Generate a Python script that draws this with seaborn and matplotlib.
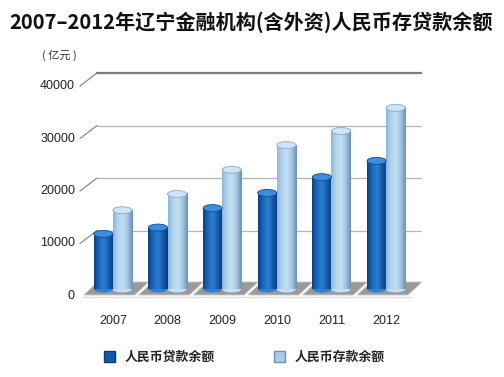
import numpy as np
import pandas as pd
import matplotlib
matplotlib.use("Agg")
import matplotlib.pyplot as plt
import seaborn as sns
from matplotlib.patches import Ellipse, Polygon, Patch
from matplotlib.colors import LinearSegmentedColormap
import matplotlib.transforms as mtransforms

# ---- data ----
years = ["2007", "2008", "2009", "2010", "2011", "2012"]
loans = [10500, 11700, 15400, 18300, 21300, 24400]
deposits = [15000, 18100, 22700, 27400, 30100, 34500]
series_names = ["人民币贷款余额", "人民币存款余额"]
y_ticks = [0, 10000, 20000, 30000, 40000]
title = "2007–2012年辽宁金融机构(含外资)人民币存贷款余额"
unit_label = "( 亿元 )"

df = pd.DataFrame({
    "year": years * 2,
    "value": loans + deposits,
    "series": [series_names[0]] * len(years) + [series_names[1]] * len(years),
})

sns.set_theme(style="white")
plt.rcParams["font.family"] = ["Liberation Sans", "Noto Sans CJK SC", "DejaVu Sans"]

W, H = 504, 377
fig = plt.figure(figsize=(W / 100, H / 100), dpi=100)
fig.patch.set_facecolor("white")
ax = fig.add_axes([85 / W, (H - 289) / H, (420 - 85) / W, 210 / H])
ax.set_facecolor("none")

base_cols = ["#1a62b4", "#a9cdea"]
sns.barplot(data=df, x="year", y="value", hue="series", palette=base_cols,
            width=0.7, saturation=1, ax=ax, legend=False, zorder=3)

XL = (-0.51, 5.62)
YL = (0, 40000)
ax.set_xlim(*XL)
ax.set_ylim(*YL)
for s in ax.spines.values():
    s.set_visible(False)

px_y = (YL[1] - YL[0]) / 210.0   # data units per pixel (y)
px_x = (XL[1] - XL[0]) / 335.0   # data units per pixel (x)

# ---- floor tiles (shadow) ----
for i in range(len(years)):
    fx0, fx1 = i - 0.53, i + 0.40
    sk = 14 * px_x
    yf, yb = -6 * px_y, 7 * px_y
    poly = Polygon([[fx0, yf], [fx1, yf], [fx1 + sk, yb], [fx0 + sk, yb]],
                   closed=True, facecolor="#9a9a9a", edgecolor="#c8c8c8",
                   lw=0.6, zorder=1, clip_on=False)
    ax.add_patch(poly)
ax.plot([XL[0] - 2 * px_x, 5.45], [-7.5 * px_y, -7.5 * px_y], color="#dcdcdc",
        lw=1.0, zorder=1, clip_on=False)

# ---- perspective gridlines ----
ytr = ax.get_yaxis_transform()
def off(dx, dy):
    return ytr + mtransforms.ScaledTranslation(dx / 100, dy / 100, fig.dpi_scale_trans)

x0f, x1f = -0.015, 0.036
for v in y_ticks[1:]:
    top = v == y_ticks[-1]
    col = "#7a7a7a" if top else "#b4b4b4"
    lw = 1.6 if top else 0.9
    p0 = off(0, -7).transform((x0f, v))
    p1 = off(0, 6).transform((x1f, v))
    fig.add_artist(plt.Line2D([p0[0] / W, p1[0] / W], [p0[1] / H, p1[1] / H],
                              transform=fig.transFigure, color="#8a8a8a", lw=0.9,
                              zorder=0))
    ax.plot([x1f, 1.003], [v, v], color=col, lw=lw, zorder=0, clip_on=False,
            transform=off(0, 6))

# ---- cylinder rendering ----
cmaps = [
    LinearSegmentedColormap.from_list("loan", ["#0b3f86", "#1c68bd", "#2b80d2", "#175aa9", "#0a3a78"]),
    LinearSegmentedColormap.from_list("dep", ["#8cb8db", "#b4d5ee", "#c4dff3", "#a0c5e2", "#6c8fae"]),
]
top_faces = ["#3d8fdc", "#cfe4f4"]
top_edges = ["#0e4a92", "#8aa9c4"]
grad = np.linspace(0, 1, 64).reshape(1, -1)
ell_h = 7 * px_y
for ci, cont in enumerate(ax.containers):
    for bar in cont:
        x, w, h = bar.get_x(), bar.get_width(), bar.get_height()
        bar.set_visible(False)
        ax.imshow(grad, extent=[x, x + w, 0, h], aspect="auto", cmap=cmaps[ci],
                  zorder=3, interpolation="bicubic")
        ax.add_patch(Ellipse((x + w / 2, 0), w, ell_h, facecolor=cmaps[ci](0.5),
                             edgecolor="none", zorder=2.9, clip_on=False))
        ax.add_patch(Ellipse((x + w / 2, h), w, ell_h, facecolor=top_faces[ci],
                             edgecolor=top_edges[ci], lw=0.6, zorder=4))

ax.set_xlim(*XL)
ax.set_ylim(*YL)

# ---- ticks ----
ax.set_yticks(y_ticks)
ax.set_yticklabels([])
ax.tick_params(axis="y", length=0)
for v in y_ticks:
    ax.text(-0.03, v, f"{v}", transform=off(0, -7), ha="right", va="center",
            fontsize=9, color="#222222")
ax.tick_params(axis="x", length=0, pad=18.5, labelsize=9, labelcolor="#222222")
ax.set_xlabel("")
ax.set_ylabel("")

# ---- texts ----
fig.text(251.5 / W, 1 - 22 / H, title, ha="center", va="center", fontsize=14.5,
         fontweight="bold", family=["Noto Sans CJK SC", "DejaVu Sans"], color="#111111")
fig.text(42 / W, 1 - 55 / H, unit_label, ha="left", va="center", fontsize=8,
         family=["Noto Sans CJK SC", "DejaVu Sans"], color="#333333")

# ---- legend ----
handles = [Patch(facecolor="#1558a6", edgecolor="#0a3a78"),
           Patch(facecolor="#a9cdea", edgecolor="#6f90ad")]
fig.legend(handles, series_names, ncol=2, loc="center left",
           bbox_to_anchor=(92 / W, 1 - 357 / H), frameon=False,
           handlelength=0.85, handleheight=0.85, handletextpad=0.75,
           columnspacing=4.6,
           prop={"family": ["Noto Sans CJK SC", "DejaVu Sans"], "size": 9.3, "weight": "bold"})

fig.savefig("out.png", dpi=100, facecolor="white")
